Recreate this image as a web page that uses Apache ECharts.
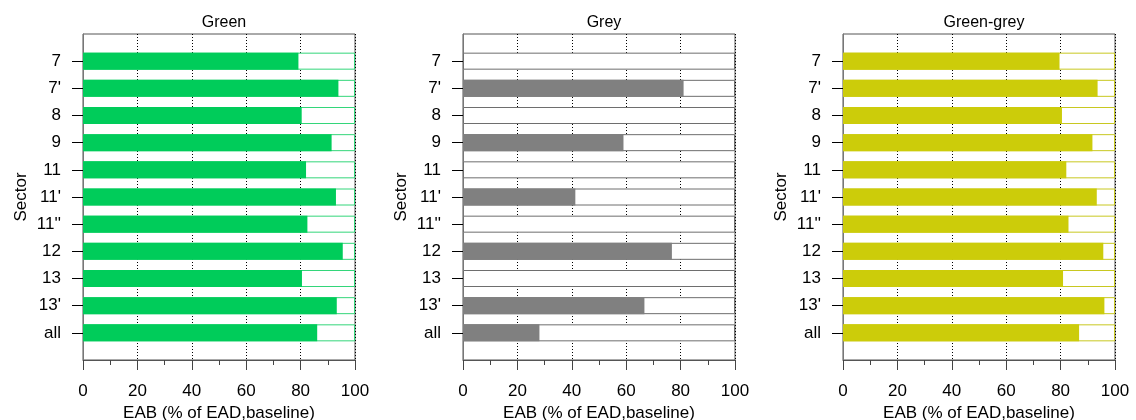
<!DOCTYPE html>
<html>
<head>
<meta charset="utf-8">
<script src="https://cdn.jsdelivr.net/npm/echarts@6/dist/echarts.min.js"></script>
<style>html,body{margin:0;padding:0;background:#fff;}#c{width:1136px;height:420px;}</style>
</head>
<body>
<div id="c"></div>
<script>
// Data
var sectors = ["7", "7'", "8", "9", "11", "11'", "11''", "12", "13", "13'", "all"];
var panelTitles = ["Green", "Grey", "Green-grey"];
var greenValues = [79.2, 93.9, 80.4, 91.4, 82.0, 93.0, 82.5, 95.5, 80.5, 93.3, 86.1];
var greyValues = [0, 81.1, 0, 59.0, 0, 41.3, 0, 76.8, 0, 66.7, 28.1];
var greenGreyValues = [79.6, 93.6, 80.5, 91.7, 82.1, 93.3, 82.9, 95.7, 80.9, 96.1, 86.8];
var xTicks = [0, 20, 40, 60, 80, 100];
var fullScale = 100;

var panelValues = [greenValues, greyValues, greenGreyValues];
var panelColors = ["#00cc5a", "#808080", "#cccc0a"];
var panelBorders = ["#33d67a", "#6e6e6e", "#c8c820"];
var lefts = [83, 463, 843];
var font = "Liberation Sans, Arial, sans-serif";
var fs = 17;

// padded category axis: one empty slot above and below
var cats = [" "].concat(sectors).concat(["  "]);
function pad(arr) { return ["-"].concat(arr).concat(["-"]); }

var grids = [], xAxes = [], yAxes = [], series = [], titles = [];
for (var i = 0; i < 3; i++) {
  grids.push({ left: lefts[i], top: 34, width: 272, height: 326, show: true, borderColor: "#555", borderWidth: 1,
    backgroundColor: "transparent", containLabel: false, outerBoundsMode: "none" });
  titles.push({ text: panelTitles[i], left: lefts[i] + 136, top: 10, textAlign: "center",
    textStyle: { fontFamily: font, fontSize: 16, fontWeight: "normal", color: "#000" } });
  xAxes.push({
    type: "value", gridIndex: i, min: xTicks[0], max: xTicks[xTicks.length - 1], interval: 20,
    name: "EAB (% of EAD,baseline)", nameLocation: "middle", nameGap: 38,
    nameTextStyle: { fontFamily: font, fontSize: fs, color: "#000" },
    axisLine: { show: true, lineStyle: { color: "#555", width: 1 } },
    axisTick: { show: true, length: 10, lineStyle: { color: "#444" } },
    minorTick: { show: true, splitNumber: 2, length: 5, lineStyle: { color: "#444" } },
    axisLabel: { fontFamily: font, fontSize: fs, color: "#000", margin: 23 },
    splitLine: { show: true, lineStyle: { color: "#000", type: [1, 2], width: 1 } },
    minorSplitLine: { show: false }
  });
  yAxes.push({
    type: "category", gridIndex: i, data: cats, inverse: true, boundaryGap: false,
    name: "Sector", nameLocation: "middle", nameGap: 53,
    nameTextStyle: { fontFamily: font, fontSize: fs, color: "#000" },
    axisLine: { show: true, lineStyle: { color: "#777", width: 1 } },
    axisTick: { show: true, length: 11, lineStyle: { color: "#000" },
      interval: function (idx, val) { return String(val).trim() !== ""; } },
    axisLabel: { fontFamily: font, fontSize: fs, color: "#000", margin: 22,
      interval: function (idx, val) { return String(val).trim() !== ""; } },
    splitLine: { show: false }
  });
  series.push({
    type: "bar", xAxisIndex: i, yAxisIndex: i, barWidth: 17, barGap: "-100%", silent: true,
    data: pad(sectors.map(function () { return fullScale; })),
    itemStyle: { color: "#fff", borderColor: panelBorders[i], borderWidth: 1 },
    z: 2, animation: false
  });
  series.push({
    type: "bar", xAxisIndex: i, yAxisIndex: i, barWidth: 17, barGap: "-100%", silent: true,
    data: pad(panelValues[i]),
    itemStyle: { color: panelColors[i] },
    z: 3, animation: false
  });
}

var chart = echarts.init(document.getElementById("c"), null, { renderer: "canvas" });
chart.setOption({
  animation: false,
  backgroundColor: "#fff",
  title: titles,
  grid: grids,
  xAxis: xAxes,
  yAxis: yAxes,
  series: series
});
</script>
</body>
</html>
